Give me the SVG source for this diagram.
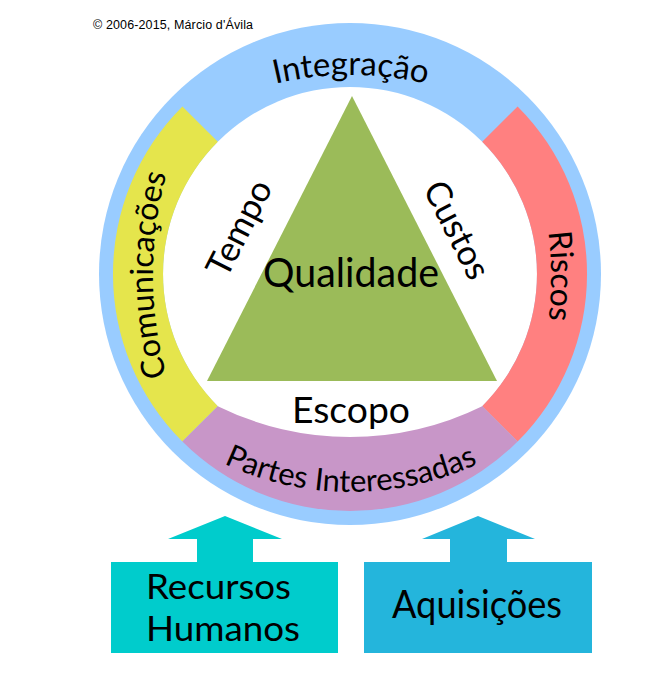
<svg xmlns="http://www.w3.org/2000/svg" width="663" height="677" viewBox="0 0 663 677">
  <defs>
    <style>
      .lbl { font-family: Lato, "Open Sans", "Liberation Sans", sans-serif; fill: #000; }
      .copy { font-family: "Liberation Sans", Arial, sans-serif; font-size: 12.5px; fill: #000; }
    </style>
    <path id="pInteg" d="M 221,101.7 A 330 330 0 0 1 481,101.7"/>
    <path id="pComun" d="M 175.9,405 A 380 380 0 0 1 175.9,145"/>
    <path id="pRisc" d="M 528.1,146 A 380 380 0 0 1 528.1,406"/>
    <path id="pPartes" d="M 211,457.3 A 300 300 0 0 0 491,457.3"/>
  </defs>
  <rect width="663" height="677" fill="#ffffff"/>
  <text class="copy" x="93" y="29" textLength="160">© 2006-2015, Márcio d'Ávila</text>

  <g id="ring">
    <circle cx="350" cy="274" r="251" fill="#99CCFF"/>
    <circle cx="350" cy="274" r="187" fill="#ffffff"/>
  </g>
  <g id="integracao">
    <text class="lbl" font-size="33"><textPath href="#pInteg" startOffset="50%" text-anchor="middle">Integração</textPath></text>
  </g>
  <g id="comunicacoes">
    <path d="M 182.4,106.4 A 237 237 0 0 0 182.4,441.6 L 217.8,406.2 A 187 187 0 0 1 217.8,141.8 Z" fill="#E5E54C"/>
    <text class="lbl" font-size="32"><textPath href="#pComun" startOffset="50%" text-anchor="middle">Comunicações</textPath></text>
  </g>
  <g id="riscos">
    <path d="M 517.6,106.4 A 237 237 0 0 1 517.6,441.6 L 482.2,406.2 A 187 187 0 0 0 482.2,141.8 Z" fill="#FF8080"/>
    <text class="lbl" font-size="32"><textPath href="#pRisc" startOffset="50%" text-anchor="middle">Riscos</textPath></text>
  </g>
  <g id="partes-interessadas">
    <path d="M 182.4,441.6 A 237 237 0 0 0 517.6,441.6 L 482.2,406.2 A 299 299 0 0 1 217.8,406.2 Z" fill="#C896C8"/>
    <text class="lbl" font-size="31"><textPath href="#pPartes" startOffset="50%" text-anchor="middle">Partes Interessadas</textPath></text>
  </g>
  <g id="qualidade">
    <polygon points="352,96 497,381 207,381" fill="#9BBB59"/>
    <text class="lbl" x="351" y="287" font-size="40" text-anchor="middle" textLength="176" lengthAdjust="spacingAndGlyphs">Qualidade</text>
  </g>
  <g id="tempo">
    <text class="lbl" transform="translate(241,229) rotate(-63)" x="0" y="10" font-size="35" text-anchor="middle">Tempo</text>
  </g>
  <g id="custos">
    <text class="lbl" transform="translate(457,230) rotate(63)" x="0" y="12" font-size="35" text-anchor="middle">Custos</text>
  </g>
  <g id="escopo">
    <text class="lbl" x="351" y="423" font-size="37" text-anchor="middle" textLength="118" lengthAdjust="spacingAndGlyphs">Escopo</text>
  </g>

  <g id="connectors">
    <polygon points="225,516 282,539 253,539 253,563 197,563 197,539 168,539" fill="#00CCCC"/>
    <polygon points="478,516 535,539 507,539 507,563 450,563 450,539 422,539" fill="#24B5DC"/>
  </g>
  <g id="recursos-humanos">
    <rect x="111" y="562" width="227" height="91" fill="#00CCCC"/>
    <text class="lbl" x="146" y="599" font-size="34" textLength="145" lengthAdjust="spacingAndGlyphs">Recursos</text>
    <text class="lbl" x="146" y="641" font-size="34" textLength="154" lengthAdjust="spacingAndGlyphs">Humanos</text>
  </g>
  <g id="aquisicoes">
    <rect x="364" y="562" width="228" height="91" fill="#24B5DC"/>
    <text class="lbl" x="477" y="618" font-size="38" text-anchor="middle" textLength="170" lengthAdjust="spacingAndGlyphs">Aquisições</text>
  </g>
</svg>
